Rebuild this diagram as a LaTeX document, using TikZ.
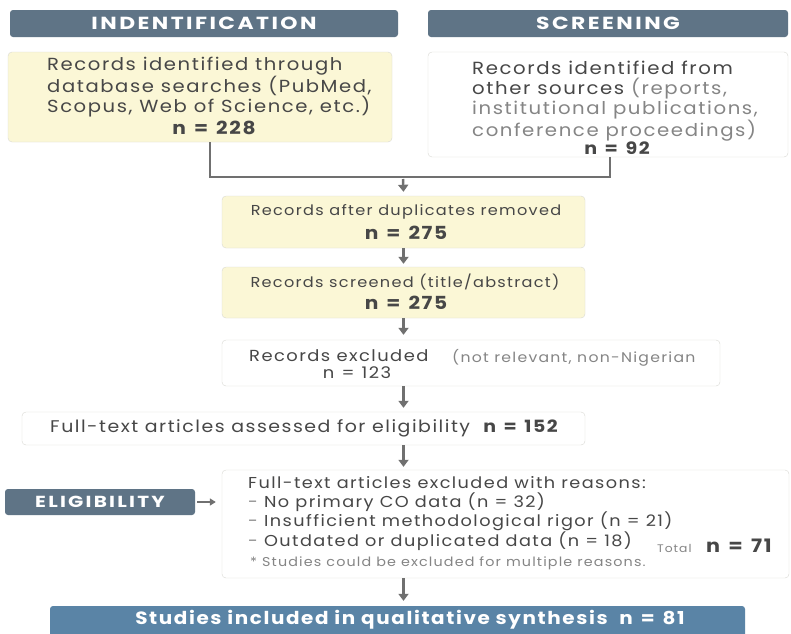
\documentclass[tikz,border=0pt]{standalone}
\usepackage{fontspec}
\setmainfont{Poppins}[FakeStretch=1.12, LetterSpace=9]
\newfontfamily\headfont{Poppins}[FakeStretch=1.25, LetterSpace=14]
\usetikzlibrary{arrows.meta,positioning}
\definecolor{slate}{HTML}{5F7486}
\definecolor{steel}{HTML}{5A84A6}
\definecolor{paleyel}{HTML}{FBF7D6}
\definecolor{edge}{HTML}{DADAD4}
\definecolor{ink}{HTML}{474747}
\definecolor{soft}{HTML}{858585}
\definecolor{arrowgray}{HTML}{707070}
\newcommand{\fs}[1]{\fontsize{#1}{19}\selectfont}
\newcommand{\nval}[1]{n\hskip.45em=\hskip.45em#1}
\tikzset{
  head/.style={fill=slate, rounded corners=3pt, text=white, font=\headfont\bfseries\fs{17.5}, inner sep=0pt},
  ybox/.style={fill=paleyel, draw=edge, rounded corners=4pt, inner sep=0pt},
  wbox/.style={fill=white, draw=edge, rounded corners=4pt, inner sep=0pt},
  txt/.style={text=ink, font=\fs{16}, inner sep=0pt, align=left},
  num/.style={text=ink, font=\bfseries\fs{18}, inner sep=0pt},
  small/.style={text=soft, font=\fs{11}, inner sep=0pt},
  flow/.style={draw=arrowgray, line width=2.5pt, -{Triangle[width=10pt,length=7pt]}},
  link/.style={draw=arrowgray, line width=1.3pt},
}

\begin{document}
\begin{tikzpicture}[x=1pt,y=-1pt]
  \clip (0,0) rectangle (791,633);
  \fill[white] (0,0) rectangle (791,633);

  % phase headers
  \node[head, minimum width=388, minimum height=27] (ident) at (204,23.5) {INDENTIFICATION};
  \node[head, minimum width=360, minimum height=27] (scr) at (608,23.5) {SCREENING};
  \node[head, font=\headfont\bfseries\fs{16}, minimum width=190, minimum height=26] (elig) at (100,502) {ELIGIBILITY};

  % boxes
  \node[ybox, minimum width=384, minimum height=90] (db) at (200,97) {};
  \node[wbox, minimum width=360, minimum height=105] (other) at (608,104.5) {};
  \node[ybox, minimum width=363, minimum height=52] (dedup) at (403.5,222) {};
  \node[ybox, minimum width=363, minimum height=51] (screen) at (403.5,292.5) {};
  \node[wbox, minimum width=498, minimum height=46] (excl) at (471,363) {};
  \node[wbox, minimum width=563, minimum height=33] (full) at (303.5,428.5) {};
  \node[wbox, minimum width=567, minimum height=108] (reasons) at (505.5,524) {};
  \node[fill=steel, rounded corners=3pt, minimum width=695, minimum height=34] (incl) at (397.5,623) {};

  % texts
  \node[txt, anchor=west, font=\fontsize{17.5}{20}\selectfont] (dbt) at (47,87) {Records identified through\\database searches (PubMed,\\Scopus, Web of Science, etc.)};
  \node[num] (dbn) at (214,128) {\nval{228}};
  \node[txt, anchor=west, font=\fontsize{17.6}{20}\selectfont] (ot) at (472,101) {Records identified from\\other sources {\color{soft}(reports,}\\{\color{soft}institutional publications,}\\{\color{soft}conference proceedings)}};
  \node[num, font=\bfseries\fs{17}] (otn) at (617,148) {\nval{92}};
  \node[txt, font=\fs{14.4}] (ddt) at (406,212) {Records after duplicates removed};
  \node[num] (ddn) at (406,233) {\nval{275}};
  \node[txt, font=\fs{14.4}] (sct) at (405,282) {Records screened (title/abstract)};
  \node[num] (scn) at (406,303) {\nval{275}};
  \node[txt, anchor=west] (ext) at (249,356) {Records excluded};
  \node[small, anchor=west, font=\fs{14}] (exr) at (452,358) {(not relevant, non-Nigerian};
  \node[txt] (exn) at (357,373) {\nval{123}};
  \node[txt, anchor=west, font=\fs{16.9}] (ft) at (50,428) {Full-text articles assessed for eligibility~~{\bfseries\nval{152}}};
  \node[txt, anchor=north west, font=\fontsize{15.8}{18.8}\selectfont] (rt) at (248,476) {Full-text articles excluded with reasons:\\
    {\color{soft}-} No primary CO data (n = 32)\\
    {\color{soft}-} Insufficient methodological rigor (n = 21)\\
    {\color{soft}-} Outdated or duplicated data (n = 18)};
  \node[small, anchor=west, font=\fs{12.8}] (rnote) at (250,563) {* Studies could be excluded for multiple reasons.};
  \node[small, anchor=west] (tot) at (657,548) {Total};
  \node[num, anchor=west, font=\bfseries\fs{18.5}] (totn) at (706,546) {\nval{71}};
  \node[text=white, font=\bfseries\fs{17.8}, inner sep=0pt] (inct) at (410,620) {Studies included in qualitative synthesis~~\nval{81}};

  % connectors
  \coordinate (join) at (403,177);
  \draw[link] ([xshift=10pt]db.south) |- (join) -| ([xshift=2pt]other.south);
  \draw[flow] ([yshift=-2pt]join) -- ([yshift=4pt]dedup.north);
  \draw[flow] (dedup.south) -- ([yshift=3pt]screen.north);
  \draw[flow] (screen.south) -- ([yshift=5pt]screen.south |- excl.north);
  \draw[flow] (excl.south -| dedup) -- ([yshift=4pt]full.north -| dedup);
  \draw[flow] (full.south -| dedup) -- ([yshift=3pt]reasons.north -| dedup);
  \draw[flow] (reasons.south -| dedup) -- ([yshift=5pt]incl.north -| dedup);
  \draw[flow, line width=1.5pt, -{Triangle[width=7pt,length=6pt]}] ([xshift=2pt]elig.east) -- ([xshift=-6pt]elig.east -| reasons.west);
\end{tikzpicture}
\end{document}
